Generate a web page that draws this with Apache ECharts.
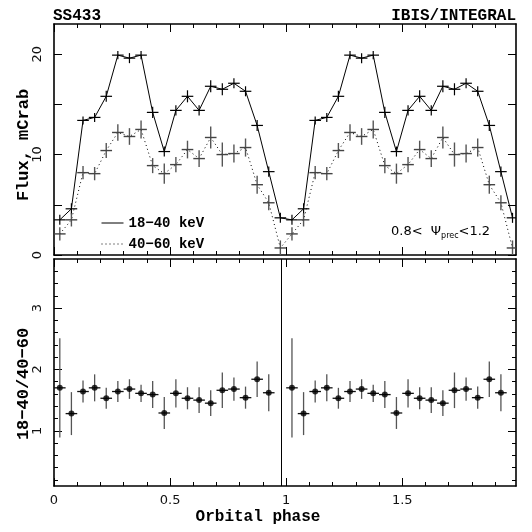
<!DOCTYPE html>
<html><head><meta charset="utf-8">
<script src="https://cdn.jsdelivr.net/npm/echarts@6/dist/echarts.min.js"></script>
<style>html,body{margin:0;padding:0;background:#fff}#c{width:532px;height:532px}</style>
</head><body><div id="c"></div>
<script>
// ---------- data ----------
const phaseFlux = [0.025,0.075,0.125,0.175,0.225,0.275,0.325,0.375,0.425,0.475,0.525,0.575,0.625,0.675,0.725,0.775,0.825,0.875,0.925,0.975,
                   1.025,1.075,1.125,1.175,1.225,1.275,1.325,1.375,1.425,1.475,1.525,1.575,1.625,1.675,1.725,1.775,1.825,1.875,1.925,1.975];
const flux1840 = [3.5,4.6,13.4,13.7,15.8,19.9,19.6,19.9,14.2,10.3,14.4,15.8,14.4,16.8,16.5,17.1,16.3,12.9,8.3,3.7,
                  3.5,4.6,13.4,13.7,15.8,19.9,19.6,19.9,14.2,10.3,14.4,15.8,14.4,16.8,16.5,17.1,16.3,12.9,8.3,3.7];
const err1840  = [0.5,0.55,0.4,0.45,0.55,0.4,0.5,0.4,0.55,0.5,0.5,0.6,0.5,0.6,0.6,0.5,0.5,0.55,0.5,0.5,
                  0.5,0.55,0.4,0.45,0.55,0.4,0.5,0.4,0.55,0.5,0.5,0.6,0.5,0.6,0.6,0.5,0.5,0.55,0.5,0.5];
const flux4060 = [2.1,3.5,8.2,8.1,10.4,12.2,11.8,12.5,8.9,8.1,9.0,10.5,9.6,11.7,10.0,10.1,10.7,7.0,5.2,0.7,
                  2.1,3.5,8.2,8.1,10.4,12.2,11.8,12.5,8.9,8.1,9.0,10.5,9.6,11.7,10.0,10.1,10.7,7.0,5.2,0.7];
const err4060  = [0.66,0.66,0.66,0.66,0.75,0.83,0.83,0.9,0.75,1.0,0.75,0.88,0.83,1.1,1.2,0.9,0.9,0.9,0.75,0.75,
                  0.66,0.66,0.66,0.66,0.75,0.83,0.83,0.9,0.75,1.0,0.75,0.88,0.83,1.1,1.2,0.9,0.9,0.9,0.75,0.75];
const phaseRatio = [0.025,0.075,0.125,0.175,0.225,0.275,0.325,0.375,0.425,0.475,0.525,0.575,0.625,0.675,0.725,0.775,0.825,0.875,0.925,
                    1.025,1.075,1.125,1.175,1.225,1.275,1.325,1.375,1.425,1.475,1.525,1.575,1.625,1.675,1.725,1.775,1.825,1.875,1.925];
const ratio    = [1.70,1.28,1.64,1.70,1.53,1.64,1.68,1.61,1.59,1.29,1.61,1.53,1.50,1.45,1.66,1.68,1.54,1.84,1.62,
                  1.70,1.28,1.64,1.70,1.53,1.64,1.68,1.61,1.59,1.29,1.61,1.53,1.50,1.45,1.66,1.68,1.54,1.84,1.62];
const ratioErr = [0.81,0.35,0.18,0.22,0.17,0.17,0.16,0.14,0.22,0.26,0.23,0.18,0.21,0.21,0.29,0.19,0.18,0.29,0.30,
                  0.81,0.35,0.18,0.22,0.17,0.17,0.16,0.14,0.22,0.26,0.23,0.18,0.21,0.21,0.29,0.19,0.18,0.29,0.30];
const binHalfWidth = 0.025;
const cycleDivider = 0.977;
const seriesNames = ['18\u221240 keV', '40\u221260 keV'];
const xMajorTicks = [0, 0.5, 1, 1.5];
const xTickLabels = ['0', '0.5', '1', '1.5'];
const xMinorTicks = [0.1,0.2,0.3,0.4,0.6,0.7,0.8,0.9,1.1,1.2,1.3,1.4,1.6,1.7,1.8,1.9];
const fluxMajorTicks = [0, 10, 20];
const fluxTickLabels = ['0', '10', '20'];
const fluxMinorTicks = [5, 15];
const ratioMajorTicks = [1, 2, 3];
const ratioTickLabels = ['1', '2', '3'];
const ratioMinorTicks = [0.2,0.4,0.6,0.8,1.2,1.4,1.6,1.8,2.2,2.4,2.6,2.8,3.2,3.4,3.6];
const xRange = [0, 1.99];
const fluxRange = [0, 23];
const ratioRange = [0.1, 3.8];

// ---------- chart ----------
const chart = echarts.init(document.getElementById('c'), null, {renderer: 'canvas'});
const MONO = '"Liberation Mono", "DejaVu Sans Mono", monospace';
const SANS = '"DejaVu Sans", sans-serif';

function labelFmt(vals, labels) {
  return function (v) {
    for (let i = 0; i < vals.length; i++) if (Math.abs(vals[i] - v) < 1e-9) return labels[i];
    return '';
  };
}

function makeAxis(dim, grid, pos, range, ticks, len, isMajor, labels) {
  const a = {
    type: 'value', gridIndex: grid, position: pos, min: range[0], max: range[1],
    splitLine: {show: false},
    axisLine: {show: isMajor, onZero: false, lineStyle: {color: '#000', width: 1.6}},
    axisTick: {show: true, inside: true, length: len, customValues: ticks, lineStyle: {color: '#000', width: 1}},
    axisLabel: {show: false}
  };
  if (labels) {
    a.axisLabel = {
      show: true, customValues: ticks, formatter: labelFmt(ticks, labels),
      fontFamily: SANS, fontSize: 13, color: '#111',
      margin: dim === 'x' ? 8 : 10, rotate: dim === 'y' ? 90 : 0
    };
  }
  return a;
}

const xAxes = [], yAxes = [];
[0, 1].forEach(function (g) {
  ['bottom', 'top'].forEach(function (pos) {
    const lab = (g === 1 && pos === 'bottom') ? xTickLabels : null;
    xAxes.push(makeAxis('x', g, pos, xRange, xMajorTicks, 8, true, lab));
    xAxes.push(makeAxis('x', g, pos, xRange, xMinorTicks, 4, false, null));
  });
  const yr = g === 0 ? fluxRange : ratioRange;
  const ymaj = g === 0 ? fluxMajorTicks : ratioMajorTicks;
  const ymin = g === 0 ? fluxMinorTicks : ratioMinorTicks;
  const ylab = g === 0 ? fluxTickLabels : ratioTickLabels;
  ['left', 'right'].forEach(function (pos) {
    yAxes.push(makeAxis('y', g, pos, yr, ymaj, 8, true, pos === 'left' ? ylab : null));
    yAxes.push(makeAxis('y', g, pos, yr, ymin, g === 0 ? 8 : 4, false, null));
  });
});

function errRender(hColor, vColor, lw) {
  return function (params, api) {
    const x = api.value(0), y = api.value(1), e = api.value(2);
    const l = api.coord([x - binHalfWidth, y]), r = api.coord([x + binHalfWidth, y]);
    const t = api.coord([x, y + e]), b = api.coord([x, y - e]);
    return {
      type: 'group',
      children: [
        {type: 'line', shape: {x1: t[0], y1: t[1], x2: b[0], y2: b[1]}, style: {stroke: vColor, lineWidth: lw}},
        {type: 'line', shape: {x1: l[0], y1: l[1], x2: r[0], y2: r[1]}, style: {stroke: hColor, lineWidth: lw}}
      ]
    };
  };
}

const lineHard = phaseFlux.map((p, i) => [p, flux1840[i]]);
const lineSoft = phaseFlux.map((p, i) => [p, flux4060[i]]);
const errHard = phaseFlux.map((p, i) => [p, flux1840[i], err1840[i]]);
const errSoft = phaseFlux.map((p, i) => [p, flux4060[i], err4060[i]]);
const ratioPts = phaseRatio.map((p, i) => [p, ratio[i]]);
const ratioErrPts = phaseRatio.map((p, i) => [p, ratio[i], ratioErr[i]]);

const option = {
  backgroundColor: '#fff',
  animation: false,
  grid: [
    {left: 54, top: 24, width: 462, height: 231, containLabel: false},
    {left: 54, top: 259, width: 462, height: 227, containLabel: false}
  ],
  xAxis: xAxes,
  yAxis: yAxes,
  legend: {
    show: true, orient: 'vertical', left: 96, top: 211, itemWidth: 22, itemHeight: 14, itemGap: 7,
    data: seriesNames,
    itemStyle: {opacity: 0, borderWidth: 0},
    lineStyle: {width: 1},
    textStyle: {fontFamily: MONO, fontWeight: 'bold', fontSize: 14, color: '#000'}
  },
  series: [
    {name: seriesNames[0], type: 'line', xAxisIndex: 0, yAxisIndex: 0, data: lineHard, symbol: 'none',
     lineStyle: {color: '#000', width: 1, type: 'solid'}, itemStyle: {color: '#000'}, z: 3},
    {name: seriesNames[1], type: 'line', xAxisIndex: 0, yAxisIndex: 0, data: lineSoft, symbol: 'none',
     lineStyle: {color: '#000', width: 1, type: [1, 3]}, itemStyle: {color: '#000'}, z: 3},
    {type: 'custom', xAxisIndex: 0, yAxisIndex: 0, data: errHard, renderItem: errRender('#000', '#000', 1.2), clip: true, z: 4},
    {type: 'custom', xAxisIndex: 0, yAxisIndex: 0, data: errSoft, renderItem: errRender('#444', '#555', 1.4), clip: true, z: 4},
    {type: 'custom', xAxisIndex: 4, yAxisIndex: 4, data: ratioErrPts, renderItem: errRender('#111', '#555', 1.3), clip: true, z: 4},
    {type: 'scatter', xAxisIndex: 4, yAxisIndex: 4, data: ratioPts, symbol: 'circle', symbolSize: 6,
     itemStyle: {color: '#000'}, z: 5,
     markLine: {silent: true, symbol: 'none', label: {show: false},
                lineStyle: {color: '#000', width: 1, type: 'solid'}, data: [{xAxis: cycleDivider}]}}
  ],
  graphic: [
    {type: 'text', x: 53, y: 16, style: {text: 'SS433', font: 'bold 16px ' + MONO, fill: '#000', textAlign: 'left', textVerticalAlign: 'middle'}},
    {type: 'text', x: 516, y: 16, style: {text: 'IBIS/INTEGRAL', font: 'bold 16px ' + MONO, fill: '#000', textAlign: 'right', textVerticalAlign: 'middle'}},
    {type: 'text', x: 24, y: 145, rotation: Math.PI / 2, style: {text: 'Flux, mCrab', font: 'bold 17px ' + MONO, fill: '#000', textAlign: 'center', textVerticalAlign: 'middle'}},
    {type: 'text', x: 24, y: 384, rotation: Math.PI / 2, style: {text: '18\u221240/40\u221260', font: 'bold 17px ' + MONO, fill: '#000', textAlign: 'center', textVerticalAlign: 'middle'}},
    {type: 'text', x: 258, y: 517, style: {text: 'Orbital phase', font: 'bold 16px ' + MONO, fill: '#000', textAlign: 'center', textVerticalAlign: 'middle'}},
    {type: 'text', x: 391, y: 224, style: {
      text: '{a|0.8<  \u03A8}{s|prec}{a|<1.2}',
      rich: {
        a: {fontFamily: SANS, fontSize: 13, fill: '#000', lineHeight: 16, verticalAlign: 'middle'},
        s: {fontFamily: SANS, fontSize: 8, fill: '#000', lineHeight: 8, verticalAlign: 'bottom', padding: [6, 0, 0, 0]}
      }
    }}
  ]
};
chart.setOption(option);
</script>
</body></html>
